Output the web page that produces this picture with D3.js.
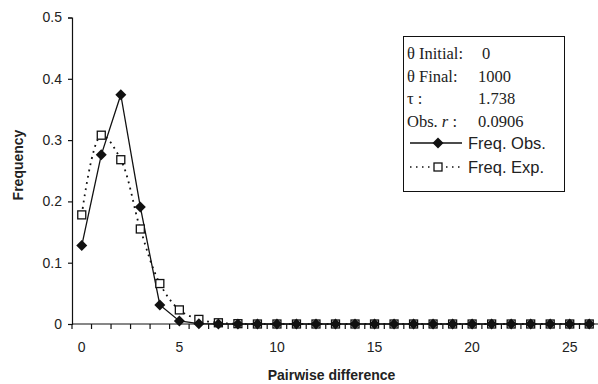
<!DOCTYPE html>
<html>
<head>
<meta charset="utf-8">
<script src="https://cdn.jsdelivr.net/npm/d3@7"></script>
<style>
  body { margin: 0; background: #fff; }
  svg text { fill: #222; }
</style>
</head>
<body>
<div id="chart"></div>
<script>
// pairwise differences 0..26
var diffs = d3.range(0, 27);
var freqObs = [0.128, 0.276, 0.374, 0.191, 0.031, 0.005, 0.0005, 0, 0, 0, 0, 0, 0, 0, 0, 0, 0, 0, 0, 0, 0, 0, 0, 0, 0, 0, 0];
var freqExp = [0.178, 0.308, 0.268, 0.155, 0.066, 0.023, 0.0075, 0.002, 0.0005, 0, 0, 0, 0, 0, 0, 0, 0, 0, 0, 0, 0, 0, 0, 0, 0, 0, 0];
var yTicks = [0, 0.1, 0.2, 0.3, 0.4, 0.5];
var xTickLabels = [0, 5, 10, 15, 20, 25];
var statLines = [
  ["\u03b8 Initial:", "0"],
  ["\u03b8 Final:", "1000"],
  ["\u03c4 :", "1.738"],
  ["Obs. ", "0.0906"]
];

var width = 598, height = 384;
var mLeft = 72, mRight = 599, mTop = 17.5, mBottom = 324;

var svg = d3.select("#chart").append("svg")
  .attr("width", width)
  .attr("height", height);

var x = d3.scalePoint().domain(diffs).range([mLeft, mRight]).padding(0.5);
var step = x.step();
var y = d3.scaleLinear().domain([0, 0.5]).range([mBottom, mTop]);

// y axis
var yAxis = d3.axisLeft(y).tickValues(yTicks).tickSize(4).tickPadding(6)
  .tickFormat(function(d){ return d === 0 ? "0" : d3.format(".1f")(d); });
var gy = svg.append("g").attr("transform", "translate(" + mLeft + ",0)").call(yAxis);
gy.select(".domain").attr("stroke", "#111").attr("stroke-width", 1.2);
gy.selectAll(".tick line").attr("stroke", "#111").attr("stroke-width", 1.2);
gy.selectAll("text").style("font-family", "Arial, 'Liberation Sans', sans-serif").style("font-size", "14px").attr("fill", "#222");

// x axis: category style, ticks between categories
var gx = svg.append("g").attr("transform", "translate(0," + mBottom + ")");
gx.append("line").attr("x1", mLeft).attr("x2", mRight).attr("stroke", "#111").attr("stroke-width", 1.2);
gx.selectAll("line.tk").data(d3.range(0, 28)).enter().append("line")
  .attr("class", "tk")
  .attr("x1", function(i){ return x(0) - step / 2 + i * step; })
  .attr("x2", function(i){ return x(0) - step / 2 + i * step; })
  .attr("y1", 0).attr("y2", 5)
  .attr("stroke", "#111").attr("stroke-width", 1.2);
gx.selectAll("text").data(xTickLabels).enter().append("text")
  .attr("x", function(d){ return x(d); })
  .attr("y", 28)
  .attr("text-anchor", "middle")
  .style("font-family", "Arial, 'Liberation Sans', sans-serif")
  .style("font-size", "14px")
  .text(function(d){ return d; });

// axis titles
svg.append("text")
  .attr("x", (mLeft + mRight) / 2 - 4).attr("y", 380)
  .attr("text-anchor", "middle")
  .style("font-family", "Arial, 'Liberation Sans', sans-serif")
  .style("font-size", "14px").style("font-weight", "bold")
  .text("Pairwise difference");
svg.append("text")
  .attr("transform", "translate(23,165) rotate(-90)")
  .attr("text-anchor", "middle")
  .style("font-family", "Arial, 'Liberation Sans', sans-serif")
  .style("font-size", "14px").style("font-weight", "bold")
  .text("Frequency");

// expected: smoothed dotted line
var lineExp = d3.line()
  .x(function(d, i){ return x(diffs[i]); })
  .y(function(d){ return y(d); })
  .curve(d3.curveCatmullRom.alpha(0.5));
svg.append("path").datum(freqExp)
  .attr("d", lineExp)
  .attr("fill", "none").attr("stroke", "#111")
  .attr("stroke-width", 1.8).attr("stroke-dasharray", "1.8,4.5");

// observed: straight solid line
var lineObs = d3.line()
  .x(function(d, i){ return x(diffs[i]); })
  .y(function(d){ return y(d); });
svg.append("path").datum(freqObs)
  .attr("d", lineObs)
  .attr("fill", "none").attr("stroke", "#111").attr("stroke-width", 1.3);

var diamond = "M0,-5.5L5.5,0L0,5.5L-5.5,0Z";

svg.selectAll("rect.exp").data(freqExp).enter().append("rect")
  .attr("class", "exp")
  .attr("x", function(d, i){ return x(diffs[i]) - 4; })
  .attr("y", function(d){ return y(d) - 4; })
  .attr("width", 8).attr("height", 8)
  .attr("fill", "#fff").attr("stroke", "#111").attr("stroke-width", 1.3);

svg.selectAll("path.obs").data(freqObs).enter().append("path")
  .attr("class", "obs")
  .attr("d", diamond)
  .attr("transform", function(d, i){ return "translate(" + x(diffs[i]) + "," + y(d) + ")"; })
  .attr("fill", "#111");

// legend box
var lg = svg.append("g");
lg.append("rect").attr("x", 403.5).attr("y", 36.5).attr("width", 161).attr("height", 155)
  .attr("fill", "#fff").attr("stroke", "#111").attr("stroke-width", 1);

var serif = "'Liberation Serif', 'Times New Roman', serif";
statLines.forEach(function(s, i){
  var t = lg.append("text").attr("x", 407).attr("y", 59 + i * 22.5)
    .style("font-family", serif).style("font-size", "16.5px");
  t.append("tspan").text(s[0]);
  if (i === 3) {
    t.append("tspan").style("font-style", "italic").text("r");
    t.append("tspan").text(" :");
  }
  lg.append("text").attr("x", i === 0 ? 482 : 478).attr("y", 59 + i * 22.5)
    .style("font-family", serif).style("font-size", "16.5px")
    .text(s[1]);
});

// legend series
lg.append("line").attr("x1", 410).attr("x2", 462).attr("y1", 143).attr("y2", 143)
  .attr("stroke", "#111").attr("stroke-width", 1.3);
lg.append("path").attr("d", diamond).attr("transform", "translate(438,143)").attr("fill", "#111");
lg.append("text").attr("x", 468).attr("y", 149)
  .style("font-family", "Arial, 'Liberation Sans', sans-serif").style("font-size", "16.5px")
  .text("Freq. Obs.");

lg.append("line").attr("x1", 410).attr("x2", 462).attr("y1", 167).attr("y2", 167)
  .attr("stroke", "#111").attr("stroke-width", 1.3).attr("stroke-dasharray", "1.5,4.5");
lg.append("rect").attr("x", 434).attr("y", 163).attr("width", 8).attr("height", 8)
  .attr("fill", "#fff").attr("stroke", "#111").attr("stroke-width", 1.3);
lg.append("text").attr("x", 468).attr("y", 173)
  .style("font-family", "Arial, 'Liberation Sans', sans-serif").style("font-size", "16.5px")
  .text("Freq. Exp.");
</script>
</body>
</html>
